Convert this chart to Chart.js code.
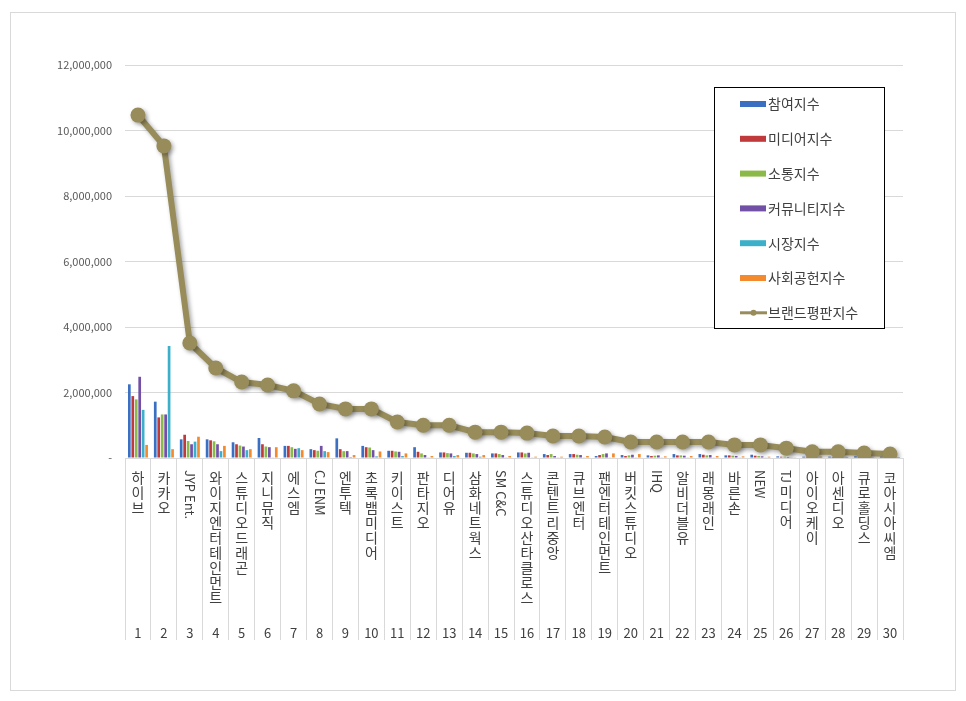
<!DOCTYPE html>
<html>
<head>
<meta charset="utf-8">
<script src="https://cdn.jsdelivr.net/npm/chart.js@4"></script>
<style>
    body { margin: 0; background: #fff; }
    #wrap { position: absolute; left: 10px; top: 12px; width: 944px; height: 677px; border: 1px solid #d9d9d9; }
</style>
</head>
<body>
<div id="wrap"><canvas id="brand-chart" width="944" height="677"></canvas></div>
<script>
// Categories (company names)
const categories = ['하이브', '카카오', 'JYP Ent.', '와이지엔터테인먼트', '스튜디오드래곤', '지니뮤직', '에스엠', 'CJ ENM', '엔투텍', '초록뱀미디어',
    '키이스트', '판타지오', '디어유', '삼화네트웍스', 'SM C&C', '스튜디오산타클로스', '콘텐트리중앙', '큐브엔터', '팬엔터테인먼트', '버킷스튜디오',
    'IHQ', '알비더블유', '래몽래인', '바른손', 'NEW', 'TJ미디어', '아이오케이', '아센디오', '큐로홀딩스', '코아시아씨엠'];
const ranks = ['1', '2', '3', '4', '5', '6', '7', '8', '9', '10', '11', '12', '13', '14', '15',
    '16', '17', '18', '19', '20', '21', '22', '23', '24', '25', '26', '27', '28', '29', '30'];

// Series values
const participation = [2250000, 1720000, 570000, 570000, 480000, 610000, 370000, 270000, 600000, 370000,
    220000, 330000, 170000, 160000, 140000, 170000, 120000, 120000, 60000, 90000,
    80000, 120000, 120000, 80000, 100000, 50000, 40000, 40000, 50000, 50000];
const media = [1890000, 1240000, 710000, 540000, 420000, 420000, 370000, 240000, 270000, 330000,
    220000, 190000, 170000, 160000, 140000, 170000, 90000, 120000, 90000, 60000,
    60000, 80000, 100000, 80000, 70000, 40000, 40000, 30000, 40000, 40000];
const communication = [1790000, 1330000, 520000, 510000, 380000, 350000, 330000, 220000, 210000, 320000,
    200000, 140000, 150000, 140000, 120000, 140000, 120000, 100000, 120000, 80000,
    70000, 80000, 80000, 70000, 60000, 40000, 50000, 40000, 40000, 50000];
const community = [2480000, 1330000, 420000, 420000, 350000, 330000, 280000, 370000, 210000, 240000,
    190000, 90000, 140000, 120000, 90000, 160000, 60000, 90000, 140000, 100000,
    80000, 70000, 90000, 60000, 50000, 30000, 50000, 30000, 40000, 40000];
const market = [1470000, 3420000, 500000, 210000, 240000, 20000, 300000, 210000, 30000, 50000,
    60000, 20000, 60000, 40000, 20000, 20000, 20000, 20000, 20000, 20000,
    20000, 20000, 20000, 20000, 20000, 10000, 10000, 10000, 10000, 10000];
const social = [400000, 270000, 650000, 370000, 270000, 330000, 240000, 180000, 90000, 200000,
    140000, 60000, 90000, 90000, 60000, 40000, 40000, 60000, 140000, 120000,
    50000, 60000, 60000, 50000, 40000, 20000, 40000, 30000, 20000, 30000];
const brandIndex = [10470000, 9530000, 3510000, 2750000, 2320000, 2230000, 2050000, 1650000, 1500000, 1500000,
    1100000, 1000000, 1000000, 790000, 790000, 760000, 670000, 670000, 640000, 490000,
    490000, 490000, 490000, 400000, 400000, 300000, 190000, 190000, 150000, 120000];

// Y axis ticks
const yTicks = [0, 2000000, 4000000, 6000000, 8000000, 10000000, 12000000];

const textColor = '#404040';
const krFont = '"Noto Sans CJK KR", "Noto Sans", sans-serif';

function barSet(label, data, color) {
    return {
        type: 'bar',
        label: label,
        data: data,
        backgroundColor: color,
        categoryPercentage: 0.8,
        barPercentage: 0.78,
        order: 1
    };
}

// Draws the stacked category names and rank numbers under the axis
const categoryLabels = {
    id: 'categoryLabels',
    afterDraw(chart) {
        const ctx = chart.ctx;
        const xs = chart.scales.x;
        ctx.save();
        ctx.fillStyle = textColor;
        categories.forEach(function(name, i) {
            const px = xs.getPixelForValue(i);
            let y = xs.top + 12;
            let run = '';
            const flush = function() {
                if (!run) return;
                ctx.save();
                ctx.font = '13px ' + krFont;
                ctx.translate(px, y);
                ctx.rotate(Math.PI / 2);
                ctx.textAlign = 'left';
                ctx.textBaseline = 'middle';
                ctx.fillText(run, 0, 0);
                y += ctx.measureText(run).width + 1;
                ctx.restore();
                run = '';
            };
            for (const ch of name) {
                const code = ch.charCodeAt(0);
                if (code >= 0xAC00 && code <= 0xD7A3) {
                    flush();
                    ctx.font = '14px ' + krFont;
                    ctx.textAlign = 'center';
                    ctx.textBaseline = 'middle';
                    ctx.fillText(ch, px, y + 8);
                    y += 15;
                } else {
                    run += ch;
                }
            }
            flush();
            ctx.font = '13px ' + krFont;
            ctx.textAlign = 'center';
            ctx.textBaseline = 'middle';
            ctx.fillText(ranks[i], px, xs.top + 175);
        });
        ctx.restore();
    }
};

// Boxed legend inside the plot
const boxLegend = {
    id: 'boxLegend',
    afterDraw(chart) {
        const ctx = chart.ctx;
        const left = 703, top = 74, w = 170, h = 241;
        ctx.save();
        ctx.fillStyle = '#fff';
        ctx.fillRect(left, top, w, h);
        ctx.strokeStyle = '#000';
        ctx.lineWidth = 1;
        ctx.strokeRect(left + 0.5, top + 0.5, w, h);
        ctx.font = '14px ' + krFont;
        ctx.textBaseline = 'middle';
        ctx.textAlign = 'left';
        chart.data.datasets.forEach(function(ds, i) {
            const cy = top + 17 + i * 34.8;
            if (ds.type === 'line') {
                ctx.strokeStyle = ds.borderColor;
                ctx.lineWidth = 3;
                ctx.beginPath();
                ctx.moveTo(left + 26, cy);
                ctx.lineTo(left + 53, cy);
                ctx.stroke();
                ctx.fillStyle = ds.borderColor;
                ctx.beginPath();
                ctx.arc(left + 39.5, cy, 3, 0, Math.PI * 2);
                ctx.fill();
            } else {
                ctx.fillStyle = ds.backgroundColor;
                ctx.fillRect(left + 26, cy - 3, 26, 6);
            }
            ctx.fillStyle = textColor;
            ctx.fillText(ds.label, left + 54, cy);
        });
        ctx.restore();
    }
};

// Soft shadow under the brand line
const lineShadow = {
    id: 'lineShadow',
    beforeDatasetDraw(chart, args) {
        if (args.meta.type !== 'line') return;
        const ctx = chart.ctx;
        ctx.save();
        ctx.shadowColor = 'rgba(0,0,0,0.35)';
        ctx.shadowBlur = 4;
        ctx.shadowOffsetX = 2;
        ctx.shadowOffsetY = 2;
    },
    afterDatasetDraw(chart, args) {
        if (args.meta.type !== 'line') return;
        chart.ctx.restore();
    }
};

new Chart(document.getElementById('brand-chart'), {
    data: {
        labels: categories,
        datasets: [
            barSet('참여지수', participation, '#3b6fc2'),
            barSet('미디어지수', media, '#c0393b'),
            barSet('소통지수', communication, '#8cba48'),
            barSet('커뮤니티지수', community, '#7150a6'),
            barSet('시장지수', market, '#3db0c9'),
            barSet('사회공헌지수', social, '#f38a2e'),
            {
                type: 'line',
                label: '브랜드평판지수',
                data: brandIndex,
                borderColor: '#978c5a',
                backgroundColor: '#978c5a',
                borderWidth: 6,
                pointRadius: 7.5,
                pointHoverRadius: 7.5,
                pointBackgroundColor: '#978c5a',
                pointBorderWidth: 0,
                tension: 0,
                order: 0
            }
        ]
    },
    options: {
        responsive: false,
        animation: false,
        layout: {
            padding: { top: 52, right: 52, left: 0, bottom: 0 }
        },
        plugins: {
            legend: { display: false },
            tooltip: { enabled: false }
        },
        scales: {
            x: {
                grid: {
                    offset: true,
                    drawOnChartArea: false,
                    drawTicks: true,
                    tickLength: 182,
                    color: '#d9d9d9'
                },
                border: { display: true, color: '#d9d9d9' },
                ticks: { display: false },
                afterFit: function(scale) { scale.height = 232; }
            },
            y: {
                min: 0,
                max: 12000000,
                afterBuildTicks: function(scale) {
                    scale.ticks = yTicks.map(function(v) { return { value: v }; });
                },
                grid: { color: '#d9d9d9', drawTicks: false },
                border: { display: false },
                ticks: {
                    padding: 13,
                    color: '#595959',
                    font: { size: 11, family: krFont },
                    callback: function(v) { return v === 0 ? '-' : v.toLocaleString('en-US'); }
                },
                afterFit: function(scale) { scale.width = 114; }
            }
        }
    },
    plugins: [categoryLabels, boxLegend, lineShadow]
});
</script>
</body>
</html>
